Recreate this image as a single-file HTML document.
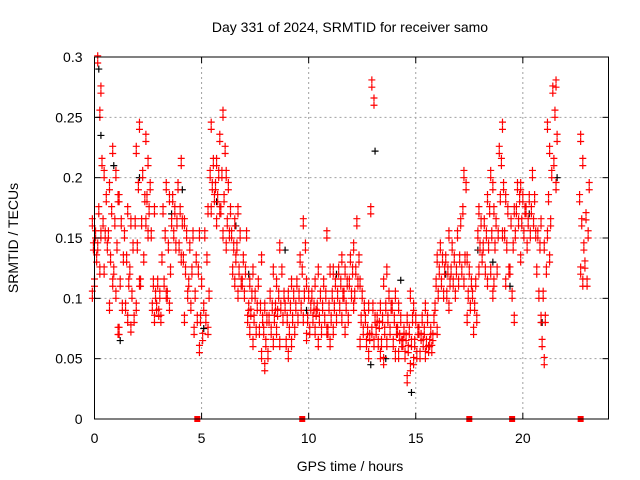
<!DOCTYPE html>
<html><head><meta charset="utf-8"><style>
html,body{margin:0;padding:0;background:#fff}
svg{display:block;font-family:"Liberation Sans",sans-serif}
</style></head><body>
<svg id="chart" width="640" height="480" viewBox="0 0 640 480" xmlns="http://www.w3.org/2000/svg">
<rect x="0" y="0" width="640" height="480" fill="#fff"/>
<text x="350" y="32" font-size="14" text-anchor="middle">Day 331 of 2024, SRMTID for receiver samo</text>
<text x="350" y="471" font-size="14" text-anchor="middle">GPS time / hours</text>
<text transform="translate(18,238) rotate(-90)" font-size="14" text-anchor="middle">SRMTID / TECUs</text>
<g id="grid"></g>
<g id="black"></g>
<g id="red"></g>
<g id="axes"></g>
</svg>
<script>
const xTicks=[0,5,10,15,20];
const yTicks=[0,0.05,0.1,0.15,0.2,0.25,0.3];
const yTickLabels=["0","0.05","0.1","0.15","0.2","0.25","0.3"];
const redTimes=[0,0.25,0.5,0.75,1,1.25,1.5,1.75,2,2.25,2.5,2.75,3,3.25,3.5,3.75,4,4.25,4.5,4.75,5,5.25,5.5,5.75,6,6.25,6.5,6.75,7,7.25,7.5,7.75,8,8.25,8.5,8.75,9,9.25,9.5,9.75,10,10.25,10.5,10.75,11,11.25,11.5,11.75,12,12.25,12.5,12.75,13,13.25,13.5,13.75,14,14.25,14.5,14.75,15,15.25,15.5,15.75,16,16.25,16.5,16.75,17,17.25,17.5,17.75,18,18.25,18.5,18.75,19,19.25,19.5,19.75,20,20.25,20.5,20.75,21,21.25,21.5,22.75,23];
const redVals=[
[.10,.11,.13,.14,.15,.16],[.27,.295,.25,.21,.17,.15,.14,.12],[.20,.18,.16,.15,.14,.12],[.22,.19,.17,.15,.13,.11,.09],
[.20,.18,.16,.14,.12,.10,.07],[.18,.16,.13,.11,.09,.07],[.17,.15,.13,.11,.09,.08],[.16,.14,.12,.10,.08,.072],
[.24,.22,.19,.16,.14,.11,.09],[.20,.18,.16,.13,.11],[.23,.21,.19,.18,.17,.16,.15],[.17,.15,.11,.10,.09,.08],
[.11,.10,.09,.085,.08],[.19,.17,.15,.13,.11,.10],[.18,.16,.14,.12,.10,.09],[.18,.17,.16,.15,.14],
[.21,.19,.17,.16,.14,.13],[.16,.15,.13,.12,.10,.08],[.15,.14,.12,.11,.09],[.13,.12,.10,.08,.07],
[.15,.11,.09,.08,.065,.055],[.17,.15,.13,.10,.08,.07],[.24,.21,.20,.19,.18,.17],[.23,.21,.20,.19,.18,.17,.16],
[.25,.22,.20,.18,.17,.15],[.20,.19,.17,.16,.15,.14],[.16,.15,.14,.13,.12,.11],[.17,.15,.14,.12,.11,.10],
[.15,.13,.12,.11,.10],[.11,.10,.09,.085,.08,.07],[.12,.10,.09,.08,.07,.06],[.13,.11,.09,.08,.07,.05],
[.09,.08,.07,.06,.05,.04],[.12,.10,.09,.08,.07,.06],[.11,.10,.09,.085,.08,.07],[.14,.12,.10,.09,.08,.06],
[.10,.09,.08,.07,.06,.05],[.11,.10,.09,.08,.07,.06],[.13,.11,.10,.09,.08],[.16,.14,.12,.10,.09,.08],
[.11,.10,.09,.08,.07,.065],[.11,.10,.09,.085,.08,.07],[.12,.10,.09,.08,.07,.06],[.15,.11,.10,.09,.08,.07],
[.12,.10,.09,.08,.07,.06],[.12,.11,.10,.09,.08,.07],[.13,.12,.11,.10,.09,.08],[.12,.11,.10,.09,.08,.07],
[.14,.13,.12,.11,.10,.09],[.16,.13,.12,.11,.10],[.11,.10,.09,.08,.07,.06],[.09,.08,.07,.065,.06,.05],
[.275,.26,.17,.09,.08,.07,.06],[.09,.08,.075,.07,.06,.05],[.11,.09,.08,.07,.06,.045],[.12,.10,.09,.08,.07,.06],
[.10,.09,.08,.07,.06,.05],[.09,.08,.07,.065,.06,.05],[.08,.07,.065,.06,.05,.03],[.10,.08,.07,.06,.055,.04],
[.09,.08,.07,.06,.05,.045],[.08,.07,.065,.06,.05],[.09,.08,.07,.06,.055,.05],[.08,.07,.065,.06,.055],
[.13,.12,.11,.10,.09,.07],[.14,.13,.12,.11,.10],[.15,.13,.12,.11,.10,.09],[.14,.13,.12,.11,.10],
[.16,.15,.13,.12,.11],[.20,.19,.17,.13,.12,.11],[.13,.12,.11,.10,.09,.08],[.11,.10,.09,.08,.07],
[.17,.16,.15,.14,.13,.12],[.18,.16,.15,.14,.12,.11],[.20,.19,.17,.15,.14,.12,.10],[.17,.16,.15,.14,.12,.11],
[.24,.22,.21,.19,.18,.15],[.18,.17,.15,.14,.12,.11],[.17,.16,.14,.12,.10,.08],[.19,.18,.17,.16,.15],
[.19,.18,.17,.16,.15,.13],[.18,.17,.16,.15,.14],[.20,.18,.17,.16,.15],[.16,.15,.14,.12,.10,.08],
[.14,.12,.10,.08,.06,.045],[.24,.22,.20,.18,.16,.15,.13],[.275,.27,.25,.23,.21,.19],[.23,.21,.18,.16,.14,.12,.11],
[.19,.165,.15,.125,.11]];
const blackTimes=[0.2,0.3,0.9,1.2,2.1,3.6,4.1,5.1,5.7,6.6,7.2,8.9,9.9,11.3,12.9,13.1,13.6,14.3,14.8,16.4,17.9,18.6,19.4,20.3,20.9,21.6];
const blackVals=[.29,.235,.21,.065,.20,.17,.19,.075,.18,.16,.12,.14,.09,.12,.045,.222,.05,.115,.022,.12,.14,.13,.11,.17,.08,.20];
const markerTimes=[4.8,9.7,17.5,19.5,22.7];

const X0=94.5,X1=608.5,Y0=419,Y1=57,XMAX=24,YMAX=0.3;
const sx=t=>X0+(X1-X0)*t/XMAX, sy=v=>Y0-(Y0-Y1)*v/YMAX;
const NS="http://www.w3.org/2000/svg";
function mk(tag,attrs,parent){const e=document.createElementNS(NS,tag);for(const k in attrs)e.setAttribute(k,attrs[k]);parent.appendChild(e);return e;}
const grid=document.getElementById('grid'),axes=document.getElementById('axes');
const red=document.getElementById('red'),black=document.getElementById('black');
xTicks.forEach(t=>{const x=sx(t);
 if(t>0){const g=mk('line',{x1:x,x2:x,y1:Y0,y2:Y1,stroke:'#a0a0a0','stroke-dasharray':'2,3','stroke-width':1},grid);
 
 }
 mk('line',{x1:x,x2:x,y1:Y0,y2:Y0-6,stroke:'#000'},axes);
 mk('line',{x1:x,x2:x,y1:Y1,y2:Y1+6,stroke:'#000'},axes);
 const l=mk('text',{x:x,y:Y0+24,'font-size':14,'text-anchor':'middle'},axes);l.textContent=String(t);
 
 
});
yTicks.forEach((v,i)=>{const y=sy(v);
 if(v>0&&v<YMAX){const g=mk('line',{x1:X0,x2:X1,y1:y,y2:y,stroke:'#a0a0a0','stroke-dasharray':'2,3','stroke-width':1},grid);
 
 }
 mk('line',{x1:X0,x2:X0+6,y1:y,y2:y,stroke:'#000'},axes);
 mk('line',{x1:X1,x2:X1-6,y1:y,y2:y,stroke:'#000'},axes);
 const l=mk('text',{x:X0-12,y:y+5,'font-size':14,'text-anchor':'end'},axes);l.textContent=yTickLabels[i];
 
 
});
const fr=mk('rect',{x:X0,y:Y1,width:X1-X0,height:Y0-Y1,fill:'none',stroke:'#000','stroke-width':1},axes);


function plus(x,y,c,g){const p=mk('path',{d:`M${x-3.5} ${y}H${x+3.5}M${x} ${y-3.5}V${y+3.5}`,stroke:c,'stroke-width':1.2,fill:'none'},g);return p;}
blackTimes.forEach((t,i)=>{const p=plus(sx(t),sy(blackVals[i]),'#000',black);
 
 });
redTimes.forEach((t,i)=>{redVals[i].forEach((v,j)=>{
 const dt=((j*7+i*3)%5-2)*0.05;
 const p=plus(sx(t+dt),sy(v),'#ff0000',red);
 
 
 const p2=plus(sx(t+dt),sy(v+0.006),'#ff0000',red);
 
 
});});
markerTimes.forEach(t=>{const r=mk('rect',{x:sx(t)-3,y:Y0-3,width:6,height:6,fill:'#ff0000'},red);
 
 });
</script>
</body></html>
